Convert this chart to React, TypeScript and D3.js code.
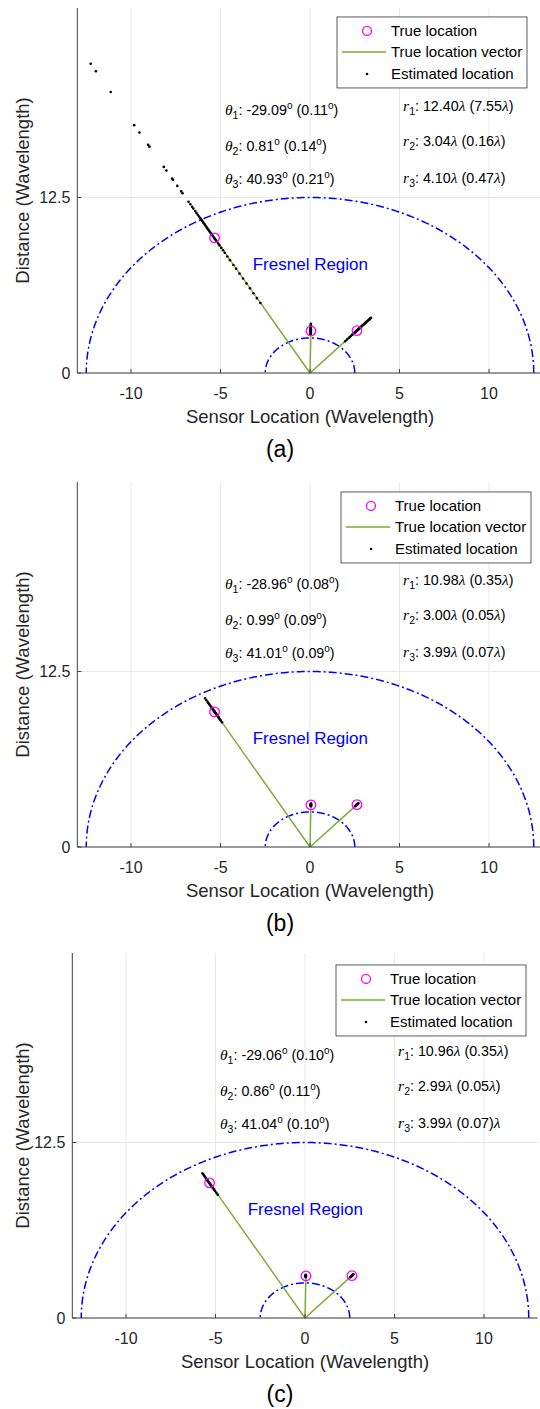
import React from "react";
import * as d3 from "d3";

// ---------- data ----------
const X_DOMAIN = [-13, 13];
const Y_DOMAIN = [0, 26];
const X_TICKS = [-10, -5, 0, 5, 10];
const Y_TICKS = [0, 12.5];
const FRESNEL_RADII = [2.5, 12.5];

const TRUE_R = [11, 3, 4];
const TRUE_THETA = [-29, 1, 41];

const PANEL_LABELS = ["(a)", "(b)", "(c)"];

const THETA_MEAN_A = ["-29.09", "0.81", "40.93"];
const THETA_STD_A = ["0.11", "0.14", "0.21"];
const R_MEAN_A = ["12.40", "3.04", "4.10"];
const R_STD_A = ["7.55", "0.16", "0.47"];

const THETA_MEAN_B = ["-28.96", "0.99", "41.01"];
const THETA_STD_B = ["0.08", "0.09", "0.09"];
const R_MEAN_B = ["10.98", "3.00", "3.99"];
const R_STD_B = ["0.35", "0.05", "0.07"];

const THETA_MEAN_C = ["-29.06", "0.86", "41.04"];
const THETA_STD_C = ["0.10", "0.11", "0.10"];
const R_MEAN_C = ["10.96", "2.99", "3.99"];
const R_STD_C = ["0.35", "0.05", "0.07"];
const R_LAMBDA_OUTSIDE_C = [false, false, true];

// estimated ranges (wavelengths) of each Monte-Carlo trial
const EST_A1 = [25.2, 24.6, 22.9, 20.2, 19.6, 18.6, 18.45, 16.8, 16.5, 15.85, 15.75, 15.25, 14.8, 14.65, 13.95,
  13.75, 13.55, 13.4, 13.2, 13.05, 12.9, 12.75, 12.6, 12.5, 12.4, 12.3, 12.2, 12.1,
  12.0, 11.9, 11.8, 11.7, 11.6, 11.5, 11.4, 11.3, 11.2, 11.1, 11.0, 10.9, 10.8, 10.7, 10.55, 10.4, 10.2, 10.0,
  9.8, 9.5, 9.2, 8.8, 8.5, 8.1, 7.7, 7.3, 6.9, 6.5, 6.1, 5.7];
const EST_A2 = [2.72, 2.78, 2.82, 2.86, 2.9, 2.93, 2.96, 2.99, 3.01, 3.03, 3.05, 3.07, 3.1, 3.13, 3.16, 3.2,
  3.24, 3.28, 3.33, 3.38, 3.44, 3.5];
const EST_A3 = [3.0, 3.15, 3.3, 3.4, 3.5, 3.6, 3.65, 3.7, 3.75, 3.8, 3.85, 3.9, 3.92, 3.95, 3.98, 4.0, 4.02,
  4.05, 4.08, 4.1, 4.12, 4.15, 4.18, 4.2, 4.25, 4.3, 4.35, 4.4, 4.45, 4.5, 4.55, 4.6, 4.65, 4.7, 4.75, 4.8,
  4.85, 4.9, 4.95, 5.0, 5.05, 5.1, 5.15, 5.2];
const EST_B1 = [10.15, 10.3, 10.4, 10.5, 10.55, 10.6, 10.65, 10.7, 10.75, 10.8, 10.85, 10.9, 10.93, 10.96,
  11.0, 11.03, 11.06, 11.1, 11.15, 11.2, 11.25, 11.3, 11.35, 11.4, 11.5, 11.6, 11.7, 11.8, 11.95, 12.1];
const EST_B2 = [2.9, 2.93, 2.95, 2.97, 2.99, 3.0, 3.01, 3.03, 3.05, 3.07, 3.1];
const EST_B3 = [3.85, 3.9, 3.93, 3.96, 3.98, 4.0, 4.02, 4.05, 4.08, 4.12];
const EST_C1 = [10.05, 10.2, 10.35, 10.45, 10.55, 10.6, 10.65, 10.7, 10.75, 10.8, 10.85, 10.9, 10.95, 11.0,
  11.05, 11.1, 11.15, 11.2, 11.25, 11.3, 11.4, 11.5, 11.6, 11.7, 11.8];
const EST_C2 = [2.9, 2.93, 2.95, 2.97, 2.99, 3.0, 3.02, 3.04, 3.06, 3.08];
const EST_C3 = [3.85, 3.9, 3.93, 3.96, 3.98, 4.0, 4.02, 4.05, 4.08, 4.12];

// ---------- layout ----------
const FONT = "'Liberation Sans', Arial, Helvetica, sans-serif";
const SERIF = "'Liberation Serif', 'Times New Roman', serif";
const PX_PER_X = 17.9;
const PX_PER_Y = 14.04;

const PANELS = [
  { originX: 310, bottom: 373, legendDx: 27, legendDy: 9,
    thetaMean: THETA_MEAN_A, thetaStd: THETA_STD_A, rMean: R_MEAN_A, rStd: R_STD_A, lamOut: [false, false, false],
    est: [EST_A1, EST_A2, EST_A3] },
  { originX: 310, bottom: 847, legendDx: 31, legendDy: 10,
    thetaMean: THETA_MEAN_B, thetaStd: THETA_STD_B, rMean: R_MEAN_B, rStd: R_STD_B, lamOut: [false, false, false],
    est: [EST_B1, EST_B2, EST_B3] },
  { originX: 305, bottom: 1318, legendDx: 31, legendDy: 12,
    thetaMean: THETA_MEAN_C, thetaStd: THETA_STD_C, rMean: R_MEAN_C, rStd: R_STD_C, lamOut: R_LAMBDA_OUTSIDE_C,
    est: [EST_C1, EST_C2, EST_C3] },
];

const TEXT_X_THETA = -4.75;
const TEXT_X_R = 5.2;
const TEXT_Y_THETA = [18.75, 16.2, 13.85];
const TEXT_Y_R = [19.05, 16.5, 13.9];

const AXIS_COLOR = "#404040";
const GRID_COLOR = "#e8e8e8";
const GREEN = "#77AC30";
const MAGENTA = "#ff00ff";
const BLUE = "#0000ff";

function toXY(r: number, thDeg: number): [number, number] {
  const t = (thDeg * Math.PI) / 180;
  return [r * Math.sin(t), r * Math.cos(t)];
}

function ThetaText({ x, y, i, mean, std }: any) {
  return (
    <text x={x} y={y} fontFamily={FONT} fontSize={14.3} fill="#000" style={{ whiteSpace: "pre" }}>
      <tspan fontFamily={SERIF} fontStyle="italic" fontSize={15.5}>θ</tspan>
      <tspan fontSize={10.5} dy={4}>{String(i + 1)}</tspan>
      <tspan dy={-4}>{": " + mean}</tspan>
      <tspan fontSize={10} dy={-6}>o</tspan>
      <tspan dy={6}>{" (" + std}</tspan>
      <tspan fontSize={10} dy={-6}>o</tspan>
      <tspan dy={6}>)</tspan>
    </text>
  );
}

function RText({ x, y, i, mean, std, out }: any) {
  return (
    <text x={x} y={y} fontFamily={FONT} fontSize={14.3} fill="#000" style={{ whiteSpace: "pre" }}>
      <tspan fontFamily={SERIF} fontStyle="italic" fontSize={15.5}>r</tspan>
      <tspan fontSize={10.5} dy={4}>{String(i + 1)}</tspan>
      <tspan dy={-4}>{": " + mean}</tspan>
      <tspan fontFamily={SERIF} fontStyle="italic" fontSize={15.5}>λ</tspan>
      {out ? (
        <>
          <tspan>{" (" + std + ")"}</tspan>
          <tspan fontFamily={SERIF} fontStyle="italic" fontSize={15.5}>λ</tspan>
        </>
      ) : (
        <>
          <tspan>{" (" + std}</tspan>
          <tspan fontFamily={SERIF} fontStyle="italic" fontSize={15.5}>λ</tspan>
          <tspan>)</tspan>
        </>
      )}
    </text>
  );
}

function Panel({ p, idx }: any) {
  const xLeft = p.originX - 13 * PX_PER_X;
  const xRight = p.originX + 13 * PX_PER_X;
  const yTop = p.bottom - 26 * PX_PER_Y;
  const x = d3.scaleLinear().domain(X_DOMAIN).range([xLeft, xRight]);
  const y = d3.scaleLinear().domain(Y_DOMAIN).range([p.bottom, yTop]);

  const arc = (R: number) => {
    const pts = d3.range(0, 180.01, 0.5).map((a) => [R * Math.cos((a * Math.PI) / 180), R * Math.sin((a * Math.PI) / 180)]);
    return d3.line<number[]>().x((d) => x(d[0])).y((d) => y(d[1]))(pts) as string;
  };

  const lx = p.originX + p.legendDx;
  const ly = yTop + p.legendDy;

  return (
    <g>
      {/* grid */}
      {X_TICKS.map((t) => (
        <line key={"gx" + t} x1={x(t)} x2={x(t)} y1={yTop} y2={p.bottom} stroke={GRID_COLOR} strokeWidth={1} />
      ))}
      {Y_TICKS.map((t) => (
        <line key={"gy" + t} x1={xLeft} x2={xRight} y1={y(t)} y2={y(t)} stroke={GRID_COLOR} strokeWidth={1} />
      ))}

      {/* Fresnel region boundaries */}
      {FRESNEL_RADII.map((R) => (
        <path key={"f" + R} d={arc(R)} fill="none" stroke={BLUE} strokeWidth={1.5} strokeDasharray="8,3,2,3" />
      ))}
      <text x={x(-3.2)} y={y(7.75) + 6} fontFamily={FONT} fontSize={17} fill={BLUE}>Fresnel Region</text>

      {/* true location vectors */}
      {TRUE_R.map((r, i) => {
        const [tx, ty] = toXY(r, TRUE_THETA[i]);
        return <line key={"v" + i} x1={x(0)} y1={y(0)} x2={x(tx)} y2={y(ty)} stroke={GREEN} strokeWidth={1.4} />;
      })}

      {/* estimated locations */}
      {p.est.map((arr: number[], i: number) =>
        arr.map((r: number, j: number) => {
          const [ex, ey] = toXY(r, parseFloat(p.thetaMean[i]));
          return <circle key={"e" + i + "_" + j} cx={x(ex)} cy={y(ey)} r={1.3} fill="#000" />;
        })
      )}

      {/* true locations */}
      {TRUE_R.map((r, i) => {
        const [tx, ty] = toXY(r, TRUE_THETA[i]);
        return <circle key={"t" + i} cx={x(tx)} cy={y(ty)} r={4.8} fill="none" stroke={MAGENTA} strokeWidth={1.3} />;
      })}

      {/* axes */}
      <line x1={xLeft} x2={xLeft} y1={yTop} y2={p.bottom} stroke={AXIS_COLOR} strokeWidth={1} />
      <line x1={xLeft} x2={xRight} y1={p.bottom} y2={p.bottom} stroke={AXIS_COLOR} strokeWidth={1} />
      {X_TICKS.map((t) => (
        <g key={"xt" + t}>
          <line x1={x(t)} x2={x(t)} y1={p.bottom} y2={p.bottom - 4} stroke={AXIS_COLOR} />
          <text x={x(t)} y={p.bottom + 25.5} textAnchor="middle" fontFamily={FONT} fontSize={16} fill="#262626">{String(t)}</text>
        </g>
      ))}
      {Y_TICKS.map((t) => (
        <g key={"yt" + t}>
          <line x1={xLeft} x2={xLeft + 4} y1={y(t)} y2={y(t)} stroke={AXIS_COLOR} />
          <text x={xLeft - 7} y={y(t) + 5.5} textAnchor="end" fontFamily={FONT} fontSize={16} fill="#262626">{String(t)}</text>
        </g>
      ))}
      <text x={p.originX} y={p.bottom + 49.5} textAnchor="middle" fontFamily={FONT} fontSize={18.5} fill="#262626">Sensor Location (Wavelength)</text>
      <text transform={`translate(${29},${(yTop + p.bottom) / 2}) rotate(-90)`} textAnchor="middle" fontFamily={FONT} fontSize={18.5} fill="#262626">Distance (Wavelength)</text>
      <text x={280} y={p.bottom + 84} textAnchor="middle" fontFamily={FONT} fontSize={23} fill="#000">{PANEL_LABELS[idx]}</text>

      {/* annotations */}
      {p.thetaMean.map((m: string, i: number) => (
        <ThetaText key={"th" + i} x={x(TEXT_X_THETA)} y={y(TEXT_Y_THETA[i]) + 5} i={i} mean={m} std={p.thetaStd[i]} />
      ))}
      {p.rMean.map((m: string, i: number) => (
        <RText key={"rt" + i} x={x(TEXT_X_R)} y={y(TEXT_Y_R[i]) + 5} i={i} mean={m} std={p.rStd[i]} out={p.lamOut[i]} />
      ))}

      {/* legend */}
      <rect x={lx} y={ly} width={190} height={71} fill="#fff" stroke="#333" strokeWidth={0.8} />
      <circle cx={lx + 30} cy={ly + 14} r={4.5} fill="none" stroke={MAGENTA} strokeWidth={1.3} />
      <text x={lx + 54} y={ly + 14 + 5.5} fontFamily={FONT} fontSize={15} fill="#000">True location</text>
      <line x1={lx + 5} x2={lx + 49} y1={ly + 35} y2={ly + 35} stroke={GREEN} strokeWidth={1.4} />
      <text x={lx + 54} y={ly + 35 + 5.5} fontFamily={FONT} fontSize={15} fill="#000">True location vector</text>
      <circle cx={lx + 30} cy={ly + 57} r={1.3} fill="#000" />
      <text x={lx + 54} y={ly + 57 + 5.5} fontFamily={FONT} fontSize={15} fill="#000">Estimated location</text>
    </g>
  );
}

export default function App() {
  return (
    <svg width={540} height={1409} style={{ position: "absolute", left: 0, top: 0, background: "#fff" }}>
      <rect x={0} y={0} width={540} height={1409} fill="#fff" />
      {PANELS.map((p, i) => (
        <Panel key={i} p={p} idx={i} />
      ))}
    </svg>
  );
}
